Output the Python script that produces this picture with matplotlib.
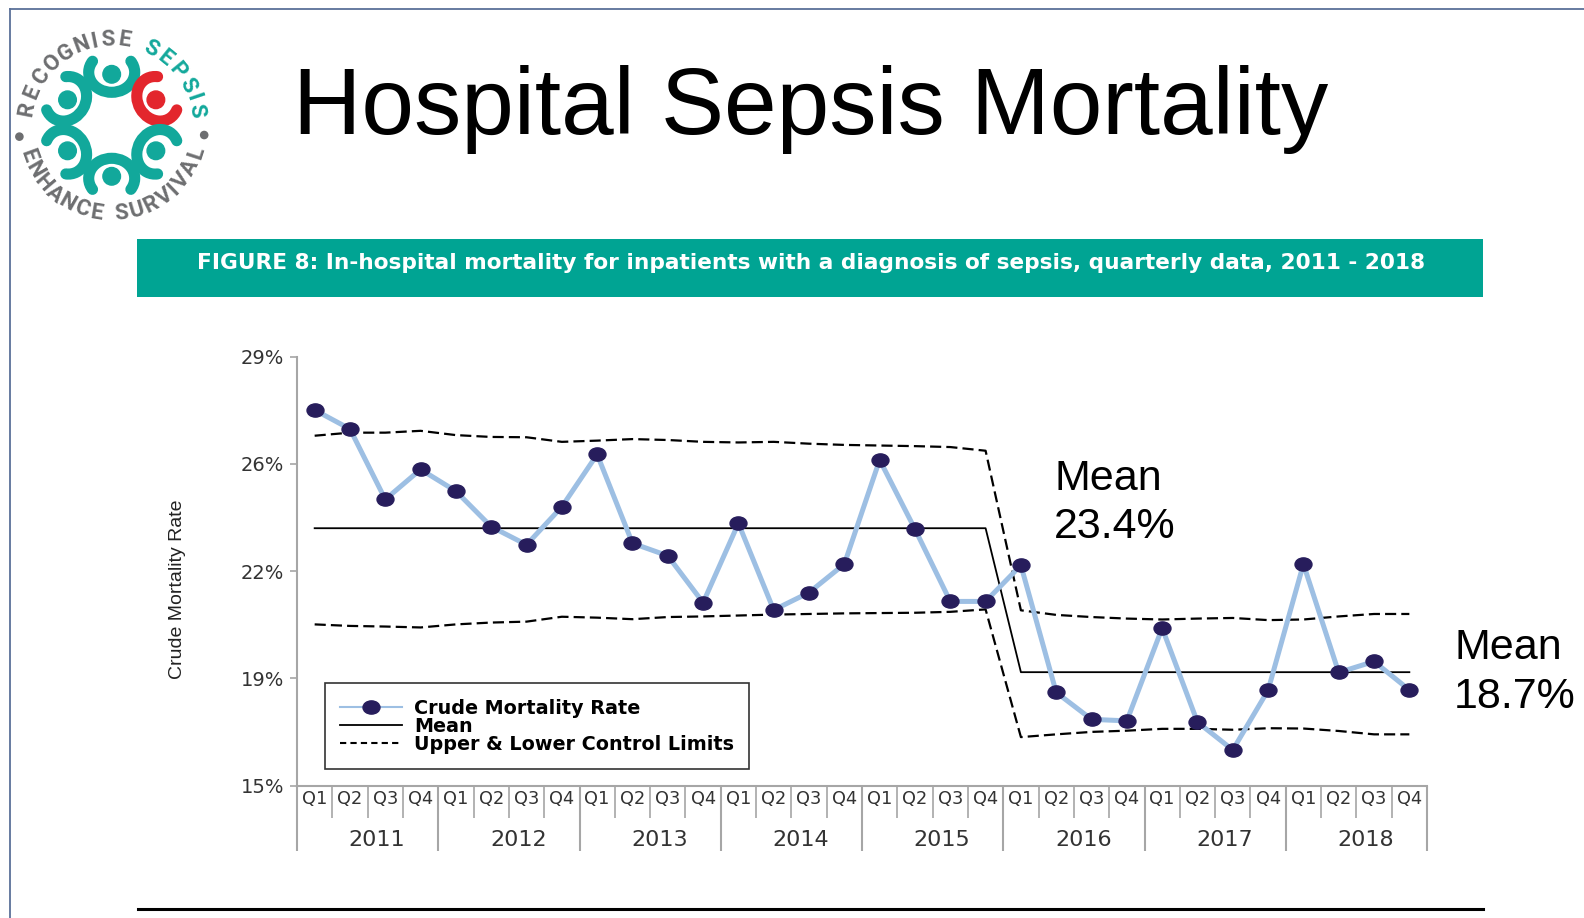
import numpy as np
import matplotlib
matplotlib.use("Agg")
import matplotlib.pyplot as plt
from matplotlib.patches import Rectangle, Circle, Arc
from matplotlib.path import Path
from matplotlib.transforms import Affine2D
from matplotlib.lines import Line2D

W, H = 1584, 918

# ---- data ----
years = ['2011', '2012', '2013', '2014', '2015', '2016', '2017', '2018']
quarters = ['Q1', 'Q2', 'Q3', 'Q4']

crude_rate = [27.26, 26.64, 24.34, 25.32,
              24.61, 23.45, 22.86, 24.10,
              25.81, 22.91, 22.50, 20.97,
              23.56, 20.73, 21.30, 22.23,
              25.63, 23.37, 21.01, 21.01,
              22.19, 18.04, 17.16, 17.11,
              20.14, 17.07, 16.16, 18.11,
              22.23, 18.69, 19.05, 18.12]

mean_by_year = [23.4, 23.4, 23.4, 23.4, 23.4, 18.7, 18.7, 18.7]

upper_limit = [26.42, 26.52, 26.52, 26.58,
               26.44, 26.38, 26.37, 26.22,
               26.26, 26.31, 26.28, 26.22,
               26.20, 26.22, 26.16, 26.12,
               26.10, 26.08, 26.05, 25.93,
               20.72, 20.57, 20.50, 20.45,
               20.42, 20.45, 20.47, 20.40,
               20.42, 20.52, 20.60, 20.60]

lower_limit = [20.26, 20.21, 20.19, 20.16,
               20.26, 20.32, 20.35, 20.51,
               20.48, 20.43, 20.50, 20.52,
               20.55, 20.58, 20.60, 20.62,
               20.63, 20.64, 20.67, 20.75,
               16.58, 16.67, 16.75, 16.79,
               16.85, 16.85, 16.82, 16.87,
               16.86, 16.78, 16.67, 16.67]

ytick_vals = [15, 18.5, 22, 25.5, 29]
ytick_labels = ['15%', '19%', '22%', '26%', '29%']

title = 'Hospital Sepsis Mortality'
banner = 'FIGURE 8: In-hospital mortality for inpatients with a diagnosis of sepsis, quarterly data, 2011 - 2018'


def fx(x):
    return x / W


def fy(y):
    return 1 - y / H


fig = plt.figure(figsize=(W / 100, H / 100), dpi=100)
fig.patch.set_facecolor('white')

# slide frame
fig.add_artist(Line2D([fx(10), fx(10)], [fy(9), 0], transform=fig.transFigure, color='#5b7199', lw=1.3))
fig.add_artist(Line2D([fx(10), 1], [fy(9), fy(9)], transform=fig.transFigure, color='#5b7199', lw=1.3))

# title + banner
fig.text(fx(293), fy(134.5), title, family='Liberation Sans', size=68, va='baseline', ha='left', color='black')
fig.add_artist(Rectangle((fx(137), fy(297)), (1483 - 137) / W, (297 - 239) / H,
                         transform=fig.transFigure, color='#00a493', lw=0))
fig.text(fx(811), fy(263), banner, color='white', weight='bold', family='DejaVu Sans', size=15.6,
         ha='center', va='center')
fig.add_artist(Line2D([fx(138), fx(1483)], [fy(909), fy(909)], transform=fig.transFigure, color='black', lw=2.2))

# ---- logo ----
lax = fig.add_axes([0, fy(240), 230 / W, 240 / H])
lax.set_xlim(0, 230)
lax.set_ylim(0, 240)
lax.axis('off')
cx, cy = 111.7, 114.7
gray = '#6d6e70'
teal = '#12a89b'
red = '#e3262d'


def arc_text(s, colors, a0, a1, r, top):
    wts = [0.5 if ch == 'I' else 0.55 if ch == ' ' else 1.2 if ch in 'MW' else 1.0 for ch in s]
    cum = np.cumsum(wts) - np.array(wts) / 2
    cum = (cum - cum[0]) / (cum[-1] - cum[0])
    for ch, col, t in zip(s, colors, cum):
        a = a0 + (a1 - a0) * t
        ar = np.radians(a)
        rot = a - 90 if top else a + 90
        lax.text(cx + r * np.cos(ar), cy + r * np.sin(ar), ch, rotation=rot, rotation_mode='anchor',
                 ha='center', va='center', family='Roboto', weight='bold', size=16, color=col)


top_txt = 'RECOGNISE SEPSIS'
arc_text(top_txt, [gray] * 10 + [teal] * 6, 169, 10, 86, True)
bot_txt = 'ENHANCE SURVIVAL'
arc_text(bot_txt, [gray] * 16, 200, 342, 89, False)
for a in [187, -6]:
    ar = np.radians(a)
    lax.add_patch(Circle((cx + 93 * np.cos(ar), cy + 93 * np.sin(ar)), 3.6, color=gray))

for phi, col in zip([90, 30, -30, -90, -150, 150], [teal, red, teal, teal, teal, teal]):
    p = np.radians(phi)
    lax.add_patch(Circle((cx + 51 * np.cos(p), cy + 51 * np.sin(p)), 8.8, color=col))
    arm = Arc((cx + 53 * np.cos(p), cy + 53 * np.sin(p)), 46, 40, angle=phi - 90,
              theta1=150, theta2=30, lw=8, color=col)
    arm.set_capstyle('round')
    lax.add_patch(arm)

# ---- chart ----
ax = fig.add_axes([fx(297), fy(785.5), (1427 - 297) / W, (785.5 - 356.7) / H])
x = np.arange(len(crude_rate))
mean_rate = np.repeat(mean_by_year, 4)

ell = Affine2D().scale(1.0, 0.78).transform_path(Path.unit_circle())
rate_col = '#9dbfe3'
dot_col = '#271d5c'

ax.plot(x, mean_rate, color='black', lw=1.3, zorder=2)
ax.plot(x, upper_limit, color='black', lw=1.6, ls=(0, (5, 2.3)), zorder=3)
ax.plot(x, lower_limit, color='black', lw=1.6, ls=(0, (5, 2.3)), zorder=3)
ax.plot(x, crude_rate, color=rate_col, lw=3.6, marker=ell, ms=12.2, mfc=dot_col, mec=dot_col, zorder=4)

ax.set_xlim(-0.5, len(crude_rate) - 0.5)
ax.set_ylim(15, 29)
ax.set_yticks(ytick_vals, ytick_labels)
ax.set_xticks(x, quarters * len(years))
ax.tick_params(axis='y', length=5, width=1.2, color='#a6a6a6', pad=4, labelsize=14, labelcolor='#333333')
ax.tick_params(axis='x', length=0, pad=3.5, labelsize=12.8, labelcolor='#333333')
for s in ['top', 'right']:
    ax.spines[s].set_visible(False)
for s in ['left', 'bottom']:
    ax.spines[s].set_color('#a6a6a6')
    ax.spines[s].set_linewidth(1.5)

xt = ax.get_xaxis_transform()
q_sep = [i + 0.5 for i in range(len(crude_rate) - 1) if (i + 1) % 4 != 0]
y_sep = [4 * k - 0.5 for k in range(len(years) + 1)]
ax.vlines(q_sep, -0.0758, 0, transform=xt, clip_on=False, color='#a6a6a6', lw=1.2)
ax.vlines(y_sep, -0.1527, 0, transform=xt, clip_on=False, color='#a6a6a6', lw=1.5)
for k, yr in enumerate(years):
    ax.text(4 * k + 1.77, -0.127, yr, transform=xt, ha='center', va='center', fontsize=16, color='#333333')

fig.text(fx(178), fy(589), 'Crude Mortality Rate', rotation=90, family='Liberation Sans', size=14,
         ha='center', va='center', color='#222222')

# legend
h_rate = Line2D([], [], color=rate_col, lw=1.5, marker=ell, ms=12.2, mfc=dot_col, mec=dot_col)
h_mean = Line2D([], [], color='black', lw=1.3)
h_lim = Line2D([], [], color='black', lw=1.5, ls=(0, (3, 2)))
leg = ax.legend([h_rate, h_mean, h_lim], ['Crude Mortality Rate', 'Mean', 'Upper & Lower Control Limits'],
                loc='lower left', bbox_to_anchor=((325 - 297) / 1130, (785.5 - 769) / 428.8),
                prop=dict(family='DejaVu Sans', weight='bold', size=13.8), frameon=True, fancybox=False,
                edgecolor='#333333', handlelength=3.2, handletextpad=0.65, labelspacing=-0.05,
                borderpad=0.8, numpoints=1, borderaxespad=0, framealpha=1)
leg.get_frame().set_linewidth(1.2)

# mean annotations
for lbl_x, base_y, m in [(1054, 490, mean_by_year[0]), (1454, 659, mean_by_year[-1])]:
    fig.text(fx(lbl_x), fy(base_y), 'Mean', family='Liberation Sans', size=31, va='baseline', ha='left')
    fig.text(fx(lbl_x), fy(base_y + 48.5), f'{m:.1f}%', family='Liberation Sans', size=31,
             va='baseline', ha='left')

fig.savefig('out.png', dpi=100, facecolor='white')
